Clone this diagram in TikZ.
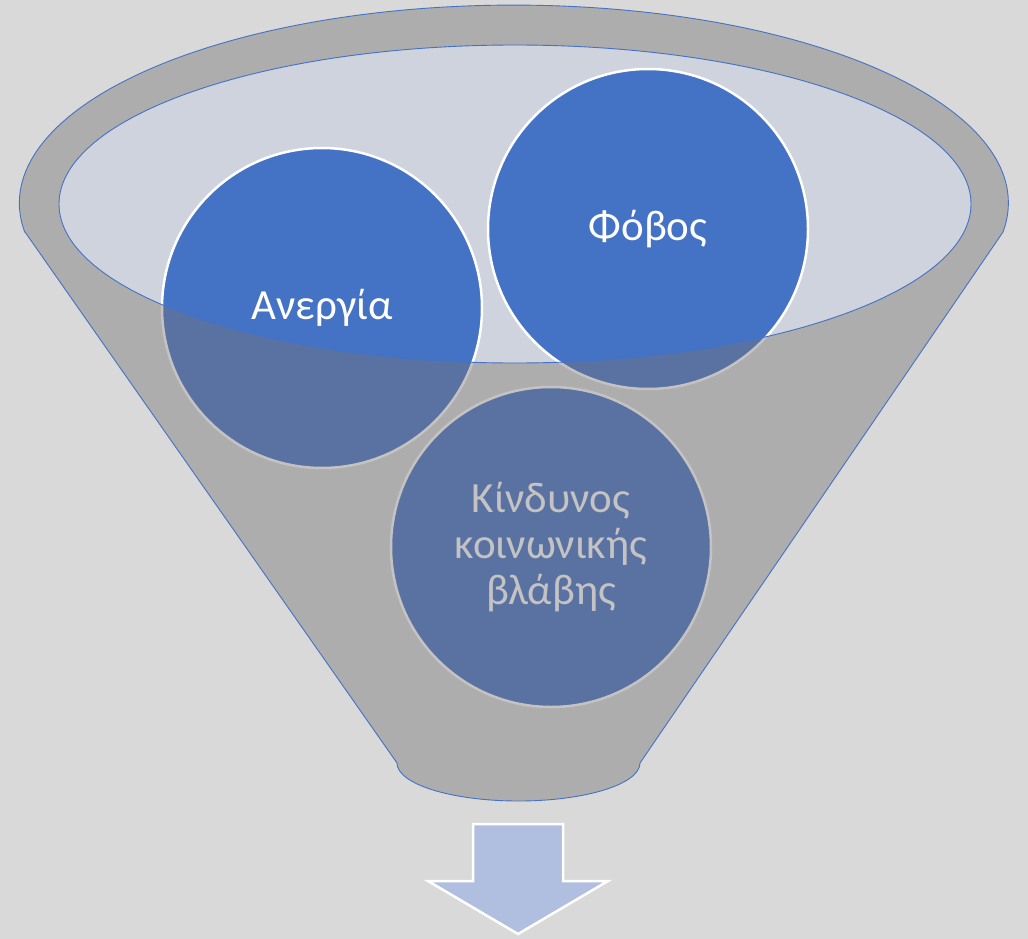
\documentclass[tikz,border=0pt]{standalone}
\usepackage{fontspec}
\setmainfont{Carlito}
\usetikzlibrary{positioning}
\definecolor{bgray} {RGB}{217,217,217}
\definecolor{fgray} {RGB}{119,115,117}
\definecolor{lblue} {RGB}{206,211,222}
\definecolor{mblue} {RGB}{68,114,196}
\definecolor{ablue} {RGB}{176,190,224}

\begin{document}
\begin{tikzpicture}[x=1pt, y=1pt,
  bubble/.style={circle, minimum size=320pt, inner sep=0pt, fill=mblue,
                 draw=white, line width=2.5pt, text=white, align=center,
                 font=\fontsize{43}{46}\selectfont},
  rim/.style={draw=mblue, line width=0.9pt}]
  \fill[bgray] (0,0) rectangle (1028,-939);
  \useasboundingbox (0,0) rectangle (1028,-939);

  % opening of the funnel
  \fill[lblue] (515,-204) ellipse [x radius=456, y radius=159];

  \node[bubble] (unemp) at (322,-308) {Ανεργία};
  \node[bubble] (fear)  at (648,-229) {Φόβος};
  \node[bubble] (harm)  at (551,-547) {Κίνδυνος\\κοινωνικής\\βλάβης};

  % funnel body, see-through over the bubbles
  \fill[fgray, fill opacity=0.43, even odd rule]
    (25,-232) -- (397,-763)
      arc[start angle=180, end angle=360, x radius=121.5, y radius=38]
      -- (1003,-232)
      arc[start angle=-8.4, end angle=188.4, x radius=494.5, y radius=198]
      -- cycle
    (515,-204) ellipse [x radius=456, y radius=159];
  \path[rim]
    (25,-232) -- (397,-763)
      arc[start angle=180, end angle=360, x radius=121.5, y radius=38]
      -- (1003,-232)
      arc[start angle=-8.4, end angle=188.4, x radius=494.5, y radius=198]
      -- cycle;
  \path[rim] (515,-204) ellipse [x radius=456, y radius=159];

  % arrow under the funnel
  \filldraw[fill=ablue, draw=white, line width=2.5pt]
    (473,-824) -- (563,-824) -- (563,-881) -- (608,-881)
    -- (518,-934) -- (428,-881) -- (473,-881) -- cycle;
\end{tikzpicture}
\end{document}
